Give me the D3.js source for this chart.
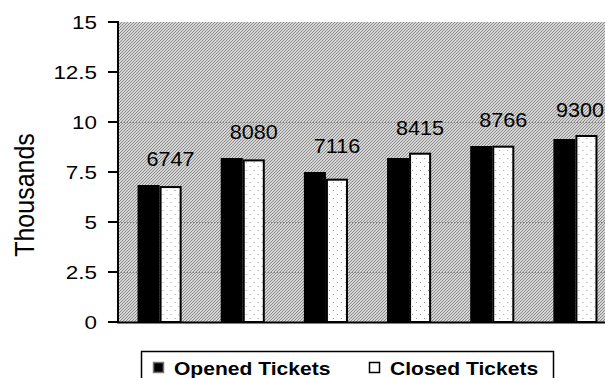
<!DOCTYPE html>
<html>
<head>
<meta charset="utf-8">
<script src="https://cdn.jsdelivr.net/npm/d3@7/dist/d3.min.js"></script>
<style>
  html, body { margin: 0; padding: 0; background: #fff; }
  text { font-family: "Liberation Sans", Arial, sans-serif; }
</style>
</head>
<body>
<svg id="chart" width="605" height="378"></svg>
<script>
(function() {
    var width = 605, height = 378

    // data, in thousands
    var periods = ["P1", "P2", "P3", "P4", "P5", "P6"]
    var opened = [6.85, 8.2, 7.5, 8.2, 8.8, 9.15]
    var closed = [6.747, 8.080, 7.116, 8.415, 8.766, 9.300]
    var closedLabels = ["6747", "8080", "7116", "8415", "8766", "9300"]
    var yTicks = [0, 2.5, 5, 7.5, 10, 12.5, 15]
    var series = ["Opened Tickets", "Closed Tickets"]

    var svg = d3.select("#chart")
    var stretch = 1.18   // the reference text is a bit wide

    // patterns: hatched plot background, dotted white bars
    var defs = svg.append("defs")
    var hatch = defs.append("pattern").attr("id", "hatch")
        .attr("width", 3).attr("height", 3).attr("patternUnits", "userSpaceOnUse")
    hatch.append("rect").attr("width", 3).attr("height", 3).attr("fill", "#d6d6d6")
    ;[[0, 2], [1, 1], [2, 0]].forEach(function(p) {
        hatch.append("rect").attr("x", p[0]).attr("y", p[1]).attr("width", 1).attr("height", 1).attr("fill", "#8a8a8a")
    })
    var dots = defs.append("pattern").attr("id", "dots")
        .attr("width", 8).attr("height", 8).attr("patternUnits", "userSpaceOnUse")
    dots.append("rect").attr("width", 8).attr("height", 8).attr("fill", "#fff")
    dots.append("rect").attr("x", 1).attr("y", 2).attr("width", 1).attr("height", 1).attr("fill", "#999")
    dots.append("rect").attr("x", 5).attr("y", 6).attr("width", 1).attr("height", 1).attr("fill", "#999")

    var x0 = d3.scaleBand().domain(periods).range([118, 617]).paddingInner(0.47).paddingOuter(0.235)
    var x1 = d3.scaleBand().domain(series).range([0, x0.bandwidth()])
    var y = d3.scaleLinear().domain([0, 15]).range([322, 22])

    // plot area
    svg.append("rect")
        .attr("x", 118).attr("y", y(15))
        .attr("width", width - 118).attr("height", y(0) - y(15))
        .attr("fill", "url(#hatch)")

    // gridlines
    svg.append("g").selectAll("line")
        .data(yTicks.filter(function(d) { return d > 0 && d < 12.5 }))
        .join("line")
        .attr("x1", 118).attr("x2", width)
        .attr("y1", function(d) { return y(d) + 0.5 }).attr("y2", function(d) { return y(d) + 0.5 })
        .attr("stroke", "#808080").attr("stroke-width", 1).attr("stroke-dasharray", "1,2")

    // bars
    var groups = svg.append("g").selectAll("g")
        .data(periods)
        .join("g")
        .attr("transform", function(d) { return "translate(" + x0(d) + ",0)" })

    groups.append("rect")
        .attr("x", x1(series[0]))
        .attr("y", function(d, i) { return y(opened[i]) })
        .attr("width", x1.bandwidth())
        .attr("height", function(d, i) { return y(0) - y(opened[i]) })
        .attr("fill", "#000")

    groups.append("rect")
        .attr("x", x1(series[1]) + 1)
        .attr("y", function(d, i) { return y(closed[i]) })
        .attr("width", x1.bandwidth() - 2)
        .attr("height", function(d, i) { return y(0) - y(closed[i]) })
        .attr("fill", "url(#dots)")
        .attr("stroke", "#000").attr("stroke-width", 2)

    // value labels above closed bars, kept inside the picture
    svg.append("g").selectAll("text")
        .data(periods)
        .join("text")
        .attr("text-anchor", "middle")
        .attr("font-size", 20)
        .attr("fill", "#000")
        .text(function(d, i) { return closedLabels[i] })
        .attr("transform", function(d, i) {
            var top = Math.min(y(opened[i]), y(closed[i]))
            var half = this.getComputedTextLength() * 1.08 / 2
            var cx = Math.min(x0(d) + x1(series[1]) + x1.bandwidth() / 2, width - 1 - half)
            return "translate(" + cx + "," + (top - 19) + ") scale(1.08,1)"
        })

    // y axis
    var yAxis = svg.append("g")
    yAxis.append("line")
        .attr("x1", 118).attr("x2", 118).attr("y1", y(15) - 1).attr("y2", y(0) + 1)
        .attr("stroke", "#000").attr("stroke-width", 2)
    yAxis.selectAll(".tick").data(yTicks).join("line")
        .attr("x1", 108).attr("x2", 118)
        .attr("y1", function(d) { return y(d) }).attr("y2", function(d) { return y(d) })
        .attr("stroke", "#000").attr("stroke-width", 2)
    yAxis.selectAll("text").data(yTicks).join("text")
        .attr("transform", function(d) { return "translate(97," + (y(d) + 7) + ") scale(" + stretch + ",1)" })
        .attr("text-anchor", "end")
        .attr("font-size", 19)
        .text(function(d) { return d })

    // x axis line
    svg.append("line")
        .attr("x1", 117).attr("x2", width).attr("y1", y(0) + 0.5).attr("y2", y(0) + 0.5)
        .attr("stroke", "#000").attr("stroke-width", 2)

    // axis title
    svg.append("text")
        .attr("transform", "translate(34,195) rotate(-90) scale(1,1.12)")
        .attr("text-anchor", "middle")
        .attr("font-size", 25)
        .text("Thousands")

    // legend
    var legend = svg.append("g")
    legend.append("rect")
        .attr("x", 141.5).attr("y", 351.5).attr("width", 412).attr("height", 40)
        .attr("fill", "#fff").attr("stroke", "#000").attr("stroke-width", 1.5)
    var legendX = [153, 369]
    var items = legend.selectAll("g.item").data(series).join("g").attr("class", "item")
    items.append("rect")
        .attr("x", function(d, i) { return legendX[i] + 0.5 }).attr("y", 362.5)
        .attr("width", 10).attr("height", 10)
        .attr("fill", function(d, i) { return i === 0 ? "#000" : "#fff" })
        .attr("stroke", function(d, i) { return i === 0 ? "#777" : "#000" })
        .attr("stroke-width", 1.5)
    items.append("text")
        .attr("transform", function(d, i) { return "translate(" + (legendX[i] + 21) + ",375) scale(1.17,1)" })
        .attr("font-size", 18).attr("font-weight", "bold")
        .text(function(d) { return d })
})();
</script>
</body>
</html>
